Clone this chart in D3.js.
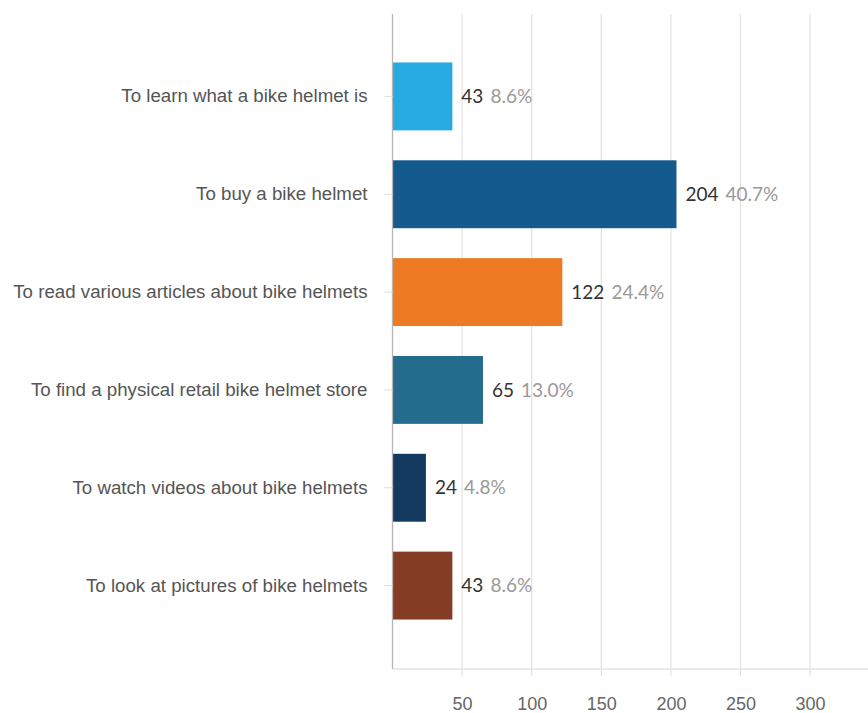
<!DOCTYPE html>
<html><head><meta charset="utf-8">
<script src="https://cdn.jsdelivr.net/npm/d3@7"></script>
<style>html,body{margin:0;padding:0;background:#fff;overflow:hidden}</style>
</head><body><svg id="c" width="868" height="713"></svg>
<script>
const categories = [
  "To learn what a bike helmet is",
  "To buy a bike helmet",
  "To read various articles about bike helmets",
  "To find a physical retail bike helmet store",
  "To watch videos about bike helmets",
  "To look at pictures of bike helmets"
];
const counts = [43, 204, 122, 65, 24, 43];
const percents = ["8.6%", "40.7%", "24.4%", "13.0%", "4.8%", "8.6%"];
const colors = ["#27a9e1", "#155a8c", "#ee7b24", "#246c8e", "#143a5f", "#843c24"];
const tickValues = [50, 100, 150, 200, 250, 300];

const svg = d3.select("#c");
const x0 = 392.5, plotTop = 14, plotBottom = 669;
const x = d3.scaleLinear().domain([0, 350]).range([x0, x0 + 7 * 69.6]);
const y = d3.scaleBand().domain(categories).range([47.5, 634.5]).paddingInner(0.306).paddingOuter(0.153);

// gridlines
svg.append("g").selectAll("line").data(tickValues).join("line")
  .attr("x1", d => x(d)).attr("x2", d => x(d))
  .attr("y1", plotTop).attr("y2", plotBottom + 7)
  .attr("stroke", "#e6e2e2").attr("stroke-width", 1.3);

// baseline
svg.append("line").attr("x1", x0).attr("x2", 868).attr("y1", plotBottom).attr("y2", plotBottom)
  .attr("stroke", "#e6e2e2").attr("stroke-width", 1.3);

// tick labels
const xAxis = svg.append("g").attr("transform", `translate(0,${plotBottom})`)
  .call(d3.axisBottom(x).tickValues(tickValues).tickSize(0).tickPadding(28));
xAxis.select(".domain").remove();
xAxis.selectAll("text").attr("font-family", "Liberation Sans, Arial, sans-serif")
  .attr("font-size", 18).attr("fill", "#666");

// bars
svg.append("g").selectAll("rect").data(categories).join("rect")
  .attr("x", x(0)).attr("y", d => y(d))
  .attr("width", (d, i) => x(counts[i]) - x(0))
  .attr("height", y.bandwidth())
  .attr("fill", (d, i) => colors[i]);

// y axis
const yAxis = svg.append("g").attr("transform", `translate(${x0},0)`)
  .call(d3.axisLeft(y).tickSize(8).tickPadding(17));
yAxis.select(".domain").attr("d", `M0,${plotTop}V${plotBottom}`).attr("stroke", "#b8b4b4").attr("stroke-width", 1.3);
yAxis.selectAll(".tick line").attr("stroke", "#ddd");
yAxis.selectAll("text").attr("font-family", "Liberation Sans, Arial, sans-serif")
  .attr("font-size", 18.7).attr("fill", "#555");

// value labels
const lab = svg.append("g").selectAll("text").data(categories).join("text")
  .attr("x", (d, i) => x(counts[i]) + 9)
  .attr("y", d => y(d) + y.bandwidth() / 2)
  .attr("dy", "0.35em")
  .attr("font-family", "Lato, sans-serif").attr("font-size", 19);
lab.append("tspan").attr("fill", "#333").text((d, i) => counts[i]);
lab.append("tspan").attr("fill", "#999").attr("dx", 7).text((d, i) => percents[i]);
</script></body></html>
